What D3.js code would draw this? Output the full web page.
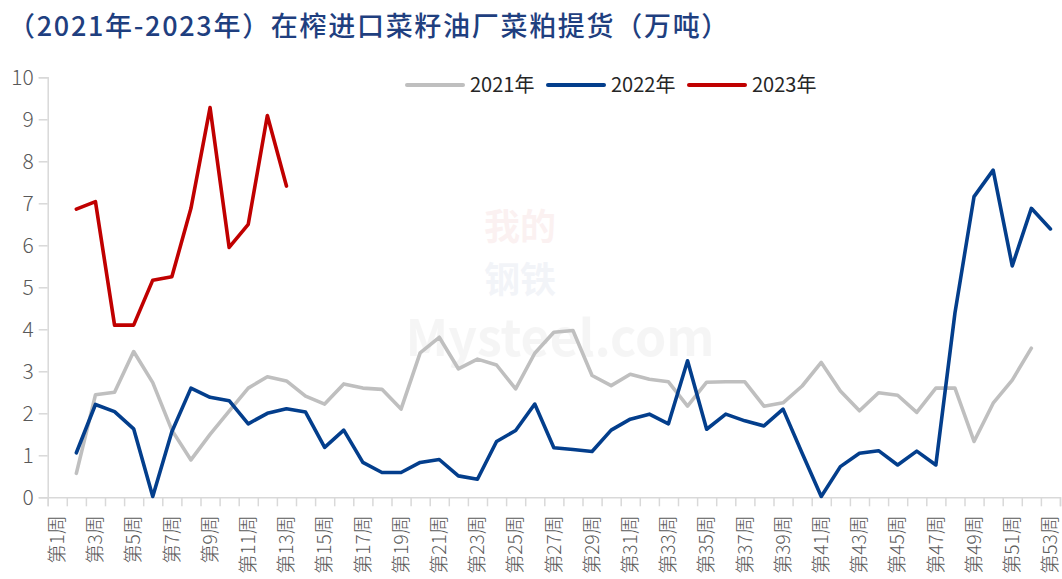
<!DOCTYPE html>
<html>
<head>
<meta charset="utf-8">
<script src="https://cdn.jsdelivr.net/npm/d3@7"></script>
<style>
  body { margin: 0; background: #fff; }
  svg { display: block; font-family: "Noto Sans CJK SC", "Noto Sans", sans-serif; }
</style>
</head>
<body>
<main></main>
<script>
const title = "（2021年-2023年）在榨进口菜籽油厂菜粕提货（万吨）"

const weeks = d3.range(1, 54).map((n) => `第${n}周`)

const seriesNames = ["2021年", "2022年", "2023年"]
const seriesColors = ["#BFBFBF", "#033E8C", "#C00000"]

// week 1 .. week 53, null = no value
const values2021 = [
  null, 0.57, 2.44, 2.5, 3.47, 2.73, 1.6, 0.89, 1.5, 2.05,
  2.6, 2.87, 2.77, 2.41, 2.22, 2.7, 2.6, 2.57, 2.1, 3.44,
  3.81, 3.06, 3.29, 3.15, 2.58, 3.43, 3.93, 3.97, 2.9, 2.66,
  2.93, 2.81, 2.75, 2.17, 2.74, 2.75, 2.75, 2.17, 2.25, 2.65,
  3.21, 2.53, 2.06, 2.49, 2.43, 2.02, 2.6, 2.6, 1.33, 2.24,
  2.79, 3.55, null,
]
const values2022 = [
  null, 1.06, 2.21, 2.04, 1.63, 0.02, 1.56, 2.6, 2.38, 2.3,
  1.75, 2.0, 2.11, 2.03, 1.19, 1.6, 0.83, 0.59, 0.59, 0.83,
  0.9, 0.51, 0.43, 1.33, 1.59, 2.22, 1.18, 1.14, 1.09, 1.6,
  1.86, 1.98, 1.75, 3.25, 1.62, 1.98, 1.82, 1.7, 2.1, 1.05,
  0.02, 0.73, 1.05, 1.11, 0.77, 1.1, 0.77, 4.39, 7.16, 7.79,
  5.51, 6.88, 6.39,
]
const values2023 = [
  null, 6.86, 7.04, 4.1, 4.1, 5.17, 5.25, 6.88, 9.28, 5.95,
  6.5, 9.09, 7.41,
]

const yTicks = [0, 1, 2, 3, 4, 5, 6, 7, 8, 9, 10]

const w = 1062
const h = 579
const plotLeft = 47.7
const plotRight = 1060
const plotTop = 77.3
const plotBottom = 497.3

const svg = d3.select("main").append("svg").attr("width", w).attr("height", h)

// faint watermark
const wm = svg.append("g").attr("font-weight", 700).attr("text-anchor", "middle").attr("opacity", 0.05)
wm.append("text")
  .attr("x", 520).attr("y", 240)
  .attr("font-size", 36).attr("fill", "#C00000")
  .text("我的")
wm.append("text")
  .attr("x", 520).attr("y", 293)
  .attr("font-size", 36).attr("fill", "#1F3F8F")
  .text("钢铁")
wm.append("text")
  .attr("x", 560).attr("y", 356)
  .attr("font-size", 50).attr("fill", "#555")
  .text("Mysteel.com")

svg.append("text")
  .attr("x", 8)
  .attr("y", 36)
  .attr("font-size", 27)
  .attr("font-weight", 500)
  .attr("letter-spacing", 1.7)
  .attr("fill", "#1F3F7F")
  .text(title)

const xScale = d3.scaleBand().domain(weeks).range([plotLeft, plotRight])
const xTickScale = d3.scaleLinear().domain([0, weeks.length]).range([plotLeft, plotRight])
const yScale = d3.scaleLinear().domain([0, 10]).range([plotBottom, plotTop])

const cx = (wk) => xScale(wk) + xScale.bandwidth() / 2

// y axis
const yAxis = d3.axisLeft(yScale).tickValues(yTicks).tickSize(9).tickPadding(5)
const gy = svg.append("g").attr("transform", `translate(${plotLeft},0)`).call(yAxis)
gy.selectAll("path, line").attr("stroke", "#D9D9D9").attr("stroke-width", 1.5)
gy.selectAll("text")
  .attr("font-size", 21)
  .attr("font-weight", 300)
  .attr("fill", "#595959")
  .attr("font-family", "'Noto Sans CJK SC', sans-serif")

// x axis: ticks at band edges
const xTicksAxis = d3.axisBottom(xTickScale)
  .tickValues(d3.range(0, weeks.length + 1))
  .tickSize(9)
  .tickFormat("")
const gx = svg.append("g").attr("transform", `translate(0,${plotBottom})`).call(xTicksAxis)
gx.selectAll("path, line").attr("stroke", "#D9D9D9").attr("stroke-width", 1.5)

const labelWeeks = weeks.filter((d, i) => i % 2 === 0)
svg.append("g")
  .selectAll("text")
  .data(labelWeeks)
  .enter()
  .append("text")
  .attr("transform", (d) => `translate(${cx(d)},${plotBottom + 18}) rotate(-90)`)
  .attr("text-anchor", "end")
  .attr("dy", "0.35em")
  .attr("font-size", 19)
  .attr("font-weight", 300)
  .attr("fill", "#595959")
  .text((d) => d)

// lines
const line = d3.line()
  .defined((d) => d.v !== null)
  .x((d) => cx(d.week))
  .y((d) => yScale(d.v))

const allSeries = [values2021, values2022, values2023]
allSeries.forEach((vals, k) => {
  const pts = vals.map((v, i) => ({ week: weeks[i], v: v }))
  svg.append("path")
    .datum(pts)
    .attr("fill", "none")
    .attr("stroke", seriesColors[k])
    .attr("stroke-width", 3.6)
    .attr("stroke-linejoin", "round")
    .attr("stroke-linecap", "round")
    .attr("d", line)
})

// legend
const legendX = [407, 548, 689]
const legend = svg.append("g")
  .selectAll("g")
  .data(seriesNames)
  .enter()
  .append("g")
  .attr("transform", (d, i) => `translate(${legendX[i]},85)`)
legend.append("line")
  .attr("x1", 0).attr("x2", 56)
  .attr("stroke", (d, i) => seriesColors[i])
  .attr("stroke-width", 4)
  .attr("stroke-linecap", "round")
legend.append("text")
  .attr("x", 63)
  .attr("dy", "0.36em")
  .attr("font-size", 20)
  .attr("fill", "#262626")
  .text((d) => d)
</script>
</body>
</html>
